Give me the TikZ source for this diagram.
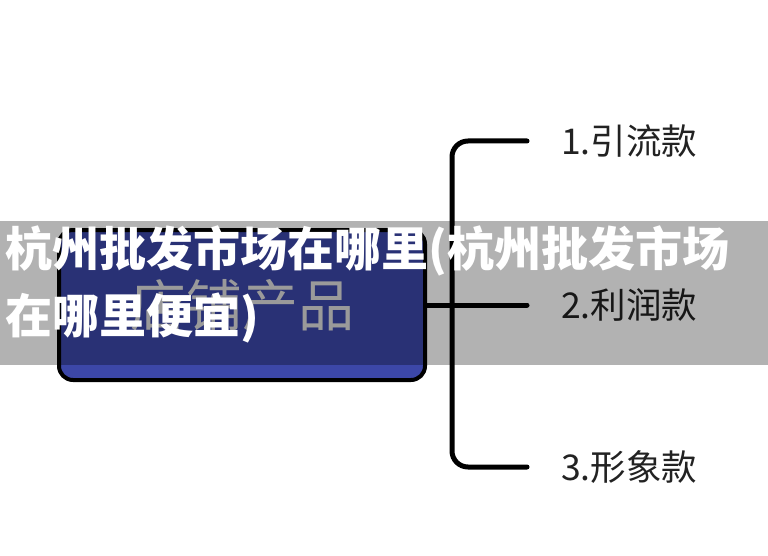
\documentclass[tikz,border=0pt]{standalone}
\usepackage{fontspec}
\newfontfamily\cjk{Noto Sans CJK SC}
\usetikzlibrary{positioning}
\definecolor{shopblue}{HTML}{3C47A8}
\definecolor{shoptext}{HTML}{DEDEDE}
\definecolor{itemgray}{HTML}{222222}

\begin{document}
\begin{tikzpicture}[x=1pt,y=-1pt,
  shopbox/.style={draw=black,line width=4pt,rounded corners=14pt,fill=shopblue,
    minimum width=366pt,minimum height=150pt,inner sep=0pt,
    font=\cjk\fontsize{56}{60}\selectfont,text=shoptext},
  branch/.style={line width=5pt,line cap=round,rounded corners=16pt},
  item/.style={inner sep=0pt,font=\cjk\fontsize{35.5}{40}\selectfont,text=itemgray},
  banner/.style={anchor=west,inner sep=0pt,font=\cjk\bfseries\fontsize{47}{50}\selectfont,text=white}]

\fill[white] (0,0) rectangle (768,556);
\useasboundingbox (0,0) rectangle (768,556);

% box and branches
\coordinate (fork) at (452,305);
\coordinate (end1) at (527,141);
\coordinate (end2) at (527,305);
\coordinate (end3) at (527,467);

\node[shopbox] (shop) at (242,305) {店铺产品};
\draw[branch] (shop.east) -- (end2);
\draw[branch] (end1) -- (fork |- end1) -- (fork |- end3) -- (end3);

\node[item,right=34pt of end1] (item1) {1.引流款};
\node[item,right=34pt of end2] (item2) {2.利润款};
\node[item,right=34pt of end3] (item3) {3.形象款};

% title band
\fill[black,opacity=0.3] (0,221) rectangle (768,365);
\node[banner] (line1) at (5,251) {杭州批发市场在哪里(杭州批发市场};
\node[banner] (line2) at (5,318) {在哪里便宜)};

\end{tikzpicture}
\end{document}
